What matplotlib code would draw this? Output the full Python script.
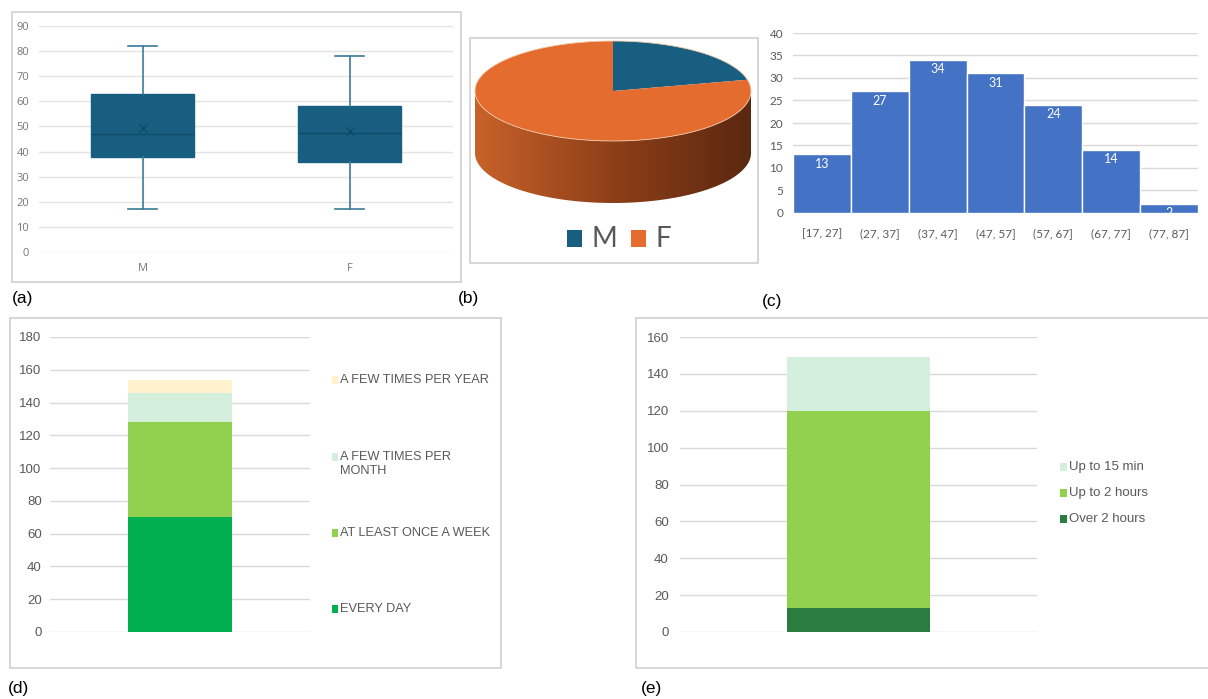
import numpy as np
import matplotlib
matplotlib.use("Agg")
import matplotlib.pyplot as plt
from matplotlib.patches import Rectangle, Polygon
from matplotlib.colors import LinearSegmentedColormap

# ---------------- data ----------------
box_groups = ["M", "F"]
box_whislo = [17, 17]
box_q1 = [38, 36]
box_med = [47, 47.5]
box_q3 = [63, 58]
box_whishi = [82, 78]
box_mean = [49.5, 48]

pie_labels = ["M", "F"]
pie_values = [31, 114]

hist_bins = ["[17, 27]", "(27, 37]", "(37, 47]", "(47, 57]", "(57, 67]", "(67, 77]", "(77, 87]"]
hist_counts = [13, 27, 34, 31, 24, 14, 2]

freq_labels = ["EVERY DAY", "AT LEAST ONCE A WEEK", "A FEW TIMES PER\nMONTH", "A FEW TIMES PER YEAR"]
freq_values = [70, 58, 18, 8]
freq_colors = ["#00B050", "#92D050", "#D4F0DC", "#FFF2CC"]

dur_labels = ["Over 2 hours", "Up to 2 hours", "Up to 15 min"]
dur_values = [13, 107, 29]
dur_colors = ["#2A7D3E", "#92D050", "#D4F0DC"]

# ---------------- figure ----------------
W, H = 1208, 699
fig = plt.figure(figsize=(W / 100, H / 100), dpi=100)
fig.patch.set_facecolor("white")


def px_axes(x0, y0, x1, y1, **kw):
    return fig.add_axes([x0 / W, 1 - y1 / H, (x1 - x0) / W, (y1 - y0) / H], **kw)


def frame(x0, y0, x1, y1):
    fig.patches.append(Rectangle((x0 / W, 1 - y1 / H), (x1 - x0) / W, (y1 - y0) / H,
                                 transform=fig.transFigure, fill=False,
                                 edgecolor="#d0d0d0", lw=1.2, zorder=0))


def fig_text(x, y, s, **kw):
    fig.text(x / W, 1 - y / H, s, **kw)


def style_axes(ax, tick_color="#595959", size=9, family="Liberation Sans", pad=6):
    for sp in ax.spines.values():
        sp.set_visible(False)
    ax.tick_params(length=0, colors=tick_color, labelsize=size, pad=pad)
    for lab in ax.get_xticklabels() + ax.get_yticklabels():
        lab.set_family(family)
    ax.grid(axis="y", color="#d9d9d9", lw=1)
    ax.set_axisbelow(True)


# ---------------- (a) box plot ----------------
frame(12, 12, 461, 282)
axa = px_axes(39, 26, 453, 252)
stats = []
for i, g in enumerate(box_groups):
    stats.append(dict(label=g, whislo=box_whislo[i], q1=box_q1[i], med=box_med[i],
                      q3=box_q3[i], whishi=box_whishi[i], mean=box_mean[i], fliers=[]))
bc = "#175E80"
axa.bxp(stats, positions=[1, 2], widths=0.5, patch_artist=True, showmeans=True,
        boxprops=dict(facecolor=bc, edgecolor=bc, lw=1),
        medianprops=dict(color="#0f4a66", lw=1),
        whiskerprops=dict(color="#3a7a98", lw=1.2),
        capprops=dict(color="#3a7a98", lw=1.2),
        capwidths=0.14,
        meanprops=dict(marker="x", markeredgecolor="#0f4a66", markersize=6, mew=1))
axa.set_xlim(0.5, 2.5)
axa.set_ylim(0, 90)
axa.set_yticks(np.arange(0, 91, 10))
style_axes(axa, tick_color="#777777", size=8, family="Open Sans", pad=7)
axa.tick_params(axis="x", pad=8)
axa.grid(axis="y", color="#e3e3e3", lw=1)
fig_text(12, 298, "(a)", fontsize=12.5, family="Liberation Sans", va="center", ha="left")

# ---------------- (b) 3D-like pie ----------------
frame(470, 38, 758, 263)
axb = px_axes(470, 30, 760, 290)
axb.axis("off")
cx, cy, rx, ry, depth = 613, 91, 138, 50, 62
pie_colors = ["#175E80", "#E46C2F"]

# side band (front half) with gradient
tt = np.linspace(np.pi, 2 * np.pi, 200)
top_edge = np.column_stack([cx + rx * np.cos(tt), cy - ry * np.sin(tt)])
bot_edge = np.column_stack([cx + rx * np.cos(tt[::-1]), cy - ry * np.sin(tt[::-1]) + depth])
side = Polygon(np.vstack([top_edge, bot_edge]), closed=True, facecolor="none", edgecolor="none")
axb.add_patch(side)
grad = np.linspace(0, 1, 256)[None, :]
cmap = LinearSegmentedColormap.from_list("side", ["#C8622A", "#8E3F18", "#5A2810"])
im = axb.imshow(grad, cmap=cmap, extent=(cx - rx, cx + rx, cy + ry + depth + 2, cy - 2),
                aspect="auto", zorder=1)
im.set_clip_path(side)

total = sum(pie_values)
start = 90.0
for v, c in zip(pie_values, pie_colors):
    sweep = 360.0 * v / total
    ang = np.radians(np.linspace(start, start - sweep, 200))
    pts = np.column_stack([cx + rx * np.cos(ang), cy - ry * np.sin(ang)])
    pts = np.vstack([[cx, cy], pts])
    axb.add_patch(Polygon(pts, closed=True, facecolor=c, edgecolor="none", zorder=2))
    start -= sweep
ta = np.linspace(0, 2 * np.pi, 300)
axb.plot(cx + rx * np.cos(ta), cy - ry * np.sin(ta), color="#f2c9a8", lw=0.6, zorder=3)

# legend
lx = [567, 631]
for i, (lab, c) in enumerate(zip(pie_labels, pie_colors)):
    axb.add_patch(Rectangle((lx[i], 230), 15, 17, facecolor=c, edgecolor="none"))
    axb.text(lx[i] + 24, 239, lab, fontsize=20, family="Lato", color="#595959",
             va="center", ha="left")
axb.set_xlim(470, 760)
axb.set_ylim(290, 30)
fig_text(458, 298, "(b)", fontsize=12.5, family="Liberation Sans", va="center", ha="left")

# ---------------- (c) histogram ----------------
axc = px_axes(793, 33, 1198, 213)
xc = np.arange(len(hist_counts))
bars = axc.bar(xc, hist_counts, width=1.0, color="#4472C4", edgecolor="white", lw=1)
axc.set_xlim(-0.5, len(hist_counts) - 0.5)
axc.set_ylim(0, 40)
axc.set_yticks(np.arange(0, 41, 5))
axc.set_xticks(xc)
axc.set_xticklabels(hist_bins)
style_axes(axc, tick_color="#595959", size=8.5, family="Lato", pad=7)
axc.tick_params(axis="x", pad=11)
for b, v in zip(bars, hist_counts):
    axc.annotate(str(v), (b.get_x() + b.get_width() / 2, v), xytext=(0, -2.5),
                 textcoords="offset points", ha="center", va="top", color="white",
                 fontsize=9, family="Lato")
fig_text(762, 302, "(c)", fontsize=12.5, family="Liberation Sans", va="center", ha="left")

# ---------------- (d) stacked frequency ----------------
frame(10, 318, 501, 668)
axd = px_axes(50, 337, 310, 632)
bottom = 0
for v, c in zip(freq_values, freq_colors):
    axd.bar([0], [v], bottom=bottom, width=0.4, color=c, edgecolor="none")
    bottom += v
axd.set_xlim(-0.5, 0.5)
axd.set_ylim(0, 180)
axd.set_yticks(np.arange(0, 181, 20))
axd.set_xticks([])
style_axes(axd, size=9.5, pad=6)
leg_y_d = [609, 533, 464, 380]
for lab, c, y in zip(freq_labels, freq_colors, leg_y_d):
    first_line_y = y - (7 if "\n" in lab else 0)
    fig.patches.append(Rectangle((332 / W, 1 - (first_line_y + 4) / H), 6 / W, 8 / H,
                                 transform=fig.transFigure, facecolor=c, edgecolor="none"))
    fig_text(340, y, lab, fontsize=9.2, family="Liberation Sans", color="#595959",
             va="center", ha="left", linespacing=1.3)
fig_text(8, 688, "(d)", fontsize=12.5, family="Liberation Sans", va="center", ha="left")

# ---------------- (e) stacked duration ----------------
frame(636, 318, 1215, 668)
axe = px_axes(680, 337, 1037, 632)
bottom = 0
for v, c in zip(dur_values, dur_colors):
    axe.bar([0], [v], bottom=bottom, width=0.4, color=c, edgecolor="none")
    bottom += v
axe.set_xlim(-0.5, 0.5)
axe.set_ylim(0, 160)
axe.set_yticks(np.arange(0, 161, 20))
axe.set_xticks([])
style_axes(axe, size=9.5, pad=8)
leg_y_e = [519, 493, 467]
for lab, c, y in zip(dur_labels, dur_colors, leg_y_e):
    fig.patches.append(Rectangle((1060 / W, 1 - (y + 4) / H), 7 / W, 8 / H,
                                 transform=fig.transFigure, facecolor=c, edgecolor="none"))
    fig_text(1069, y, lab, fontsize=9.5, family="Liberation Sans", color="#595959",
             va="center", ha="left")
fig_text(641, 688, "(e)", fontsize=12.5, family="Liberation Sans", va="center", ha="left")

fig.savefig("out.png", dpi=100, facecolor="white")
